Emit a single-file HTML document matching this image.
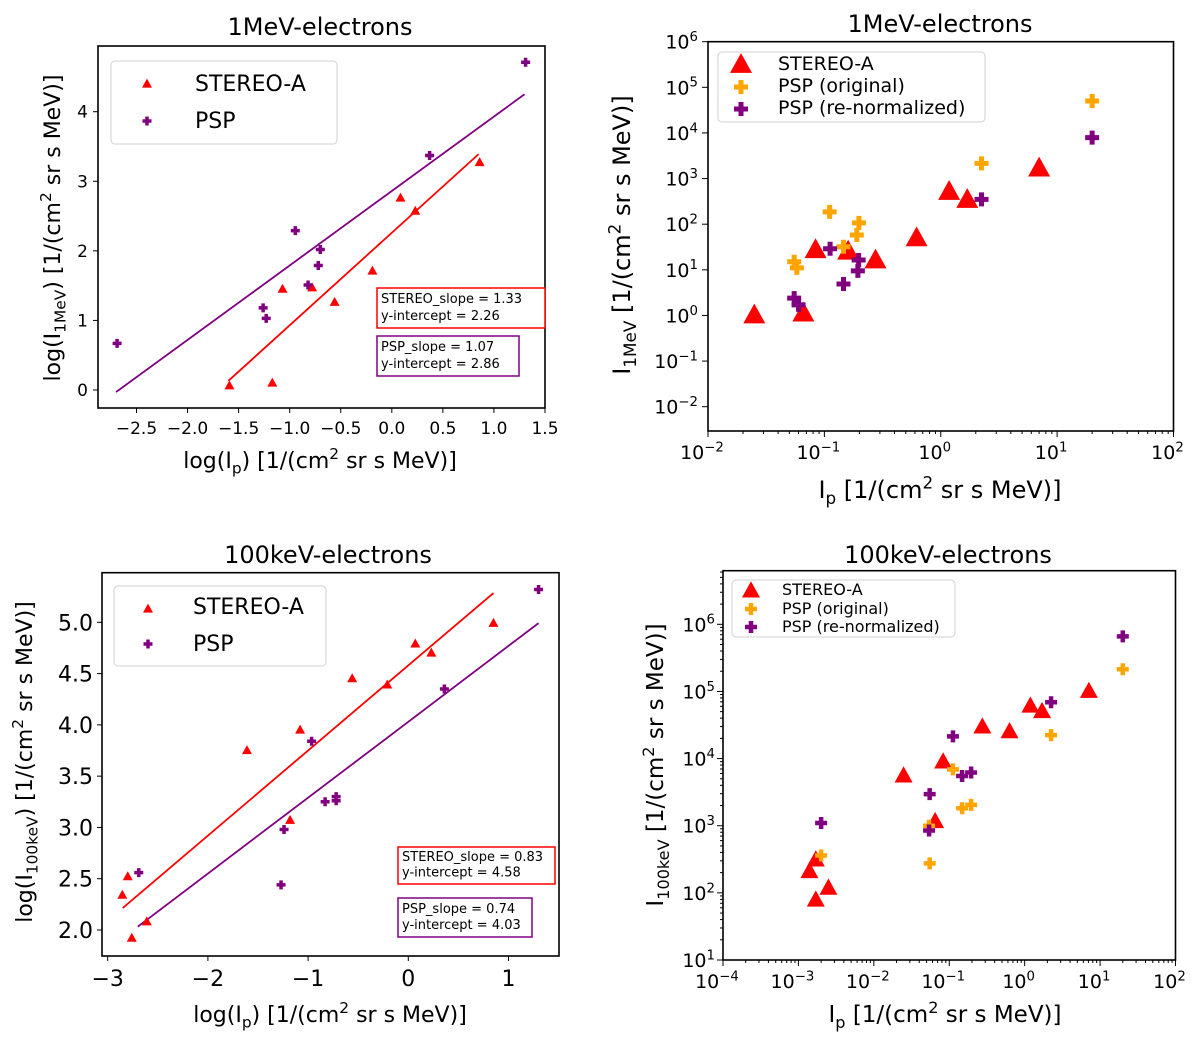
<!DOCTYPE html>
<html><head><meta charset="utf-8"><style>
html,body{margin:0;padding:0;background:#fff;}
svg{display:block;font-family:"DejaVu Sans","Liberation Sans",sans-serif;}
</style></head><body>
<svg id="fig" width="1200" height="1043" viewBox="0 0 1200 1043" xmlns="http://www.w3.org/2000/svg"></svg>
<script>
// ---- Panel 1 data (log values) ----
const p1StereoX = [-1.59,-1.17,-1.07,-0.78,-0.56,-0.19,0.085,0.23,0.86];
const p1StereoY = [0.06,0.10,1.45,1.47,1.26,1.71,2.76,2.57,3.27];
const p1PspX = [-2.69,-0.945,-0.70,-0.72,-0.82,-1.26,-1.23,0.37,1.31];
const p1PspY = [0.67,2.29,2.02,1.79,1.51,1.18,1.03,3.37,4.71];
const p1Fits = [[1.33,2.26,-1.6,0.85],[1.07,2.86,-2.7,1.3]];
const p1XTicks = [-2.5,-2.0,-1.5,-1.0,-0.5,0.0,0.5,1.0,1.5];
const p1YTicks = [0,1,2,3,4];
// ---- Panel 2 data ----
const p2StereoIp = [0.025,0.066,0.084,0.16,0.275,0.62,1.18,1.69,7.0];
const p2StereoIe = [1.0,1.1,27,25,16,49,510,340,1660];
const p2OrigIp = [0.055,0.058,0.111,0.146,0.198,0.19,2.24,20];
const p2OrigIe = [15,11,186,32,107,58,2150,50000];
const p2RenIp = [0.055,0.06,0.112,0.146,0.197,0.194,2.24,20];
const p2RenIe = [2.4,1.7,29,4.9,16.4,9.5,350,7900];
const p2XTicks = [-2,-1,0,1,2];
const p2YTicks = [-2,-1,0,1,2,3,4,5,6];
// ---- Panel 3 data (log values) ----
const p3StereoX = [-2.854,-2.80,-2.76,-2.61,-1.61,-1.08,-1.18,-0.56,-0.21,0.07,0.23,0.85];
const p3StereoY = [2.34,2.52,1.92,2.08,3.75,3.95,3.07,4.45,4.39,4.79,4.70,4.99];
const p3PspX = [-2.69,-0.965,-1.24,-1.27,-0.83,-0.72,-0.72,0.36,1.30];
const p3PspY = [2.56,3.84,2.98,2.44,3.25,3.30,3.26,4.35,5.32];
const p3Fits = [[0.83,4.58,-2.85,0.85],[0.74,4.03,-2.7,1.3]];
const p3XTicks = [-3,-2,-1,0,1];
const p3YTicks = [2.0,2.5,3.0,3.5,4.0,4.5,5.0];
// ---- Panel 4 data ----
const p4StereoIp = [0.0014,0.0017,0.0017,0.0025,0.0248,0.083,0.065,0.275,0.63,1.19,1.70,7.1];
const p4StereoIe = [207,309,78,117,5500,8900,1150,29500,25100,60300,50100,100000];
const p4OrigIp = [0.002,0.055,0.054,0.112,0.148,0.195,2.24,20];
const p4OrigIe = [360,275,1000,6900,1820,2040,22400,214000];
const p4RenIp = [0.002,0.055,0.054,0.112,0.148,0.195,2.24,20];
const p4RenIe = [1100,2950,850,21400,5500,6200,69000,660000];
const p4XTicks = [-4,-3,-2,-1,0,1,2];
const p4YTicks = [1,2,3,4,5,6];

const NS='http://www.w3.org/2000/svg';
const svg=document.getElementById('fig');
function mk(tag,at,parent){const e=document.createElementNS(NS,tag);for(const k in at)e.setAttribute(k,at[k]);(parent||svg).appendChild(e);return e;}
function lin(d0,d1,p0,p1){return v=>p0+(v-d0)*(p1-p0)/(d1-d0);}
function logs(d0,d1,p0,p1){const f=lin(Math.log10(d0),Math.log10(d1),p0,p1);return v=>f(Math.log10(v));}
const RED='#ff0000',PUR='#800080',ORA='#ffa500';
function tri(g,cx,cy,s,name){const h=s*0.9;const p=mk('polygon',{points:`${cx},${cy-h*0.6} ${cx-s/2},${cy+h*0.4} ${cx+s/2},${cy+h*0.4}`,fill:RED},g);

return p;}
function plus(g,cx,cy,s,t,col,name){const p=mk('path',{d:`M${cx-s/2},${cy-t/2}h${s}v${t}h${-s}z M${cx-t/2},${cy-s/2}h${t}v${s}h${-t}z`,fill:col},g);

return p;}
function richText(g,x,y,parts,fs,attrs){const t=mk('text',Object.assign({x:x,y:y,'font-size':fs,fill:'#000'},attrs||{}),g);
parts.forEach(p=>{const s=mk('tspan',{},t);s.textContent=p[0];if(p[1]==='sub'){s.setAttribute('font-size',fs*0.7);s.setAttribute('dy',fs*0.25);}
else if(p[1]==='sup'){s.setAttribute('font-size',fs*0.7);s.setAttribute('dy',-fs*0.4);}
else if(p[1]==='subend'){s.setAttribute('dy',-fs*0.25);}else if(p[1]==='supend'){s.setAttribute('dy',fs*0.4);}});return t;}
function frame(g,b){const r=mk('rect',{x:b.l,y:b.t,width:b.r-b.l,height:b.b-b.t,fill:'none',stroke:'#000','stroke-width':1.6},g);

}
function title(g,x,y,txt){const t=mk('text',{x:x,y:y,'font-size':24,'text-anchor':'middle'},g);t.textContent=txt;

}
function legendBox(g,x,y,w,h){const r=mk('rect',{x:x,y:y,width:w,height:h,rx:4,fill:'#fff',stroke:'#d0d0d0','stroke-width':1},g);

}
function statBox(g,x,y,w,h,col,l1,l2,fs){const r=mk('rect',{x:x,y:y,width:w,height:h,fill:'#fff',stroke:col,'stroke-width':1.5},g);


const a=mk('text',{x:x+4,y:y+h*0.38,'font-size':fs},g);a.textContent=l1;const b=mk('text',{x:x+4,y:y+h*0.8,'font-size':fs},g);b.textContent=l2;}
function fmt(v){return (v<0?'\u2212':'')+Math.abs(v).toFixed(1);}

// ===== Panel 1 =====
(function(){
const g=mk('g',{});
const b={l:98,r:545,t:46,b:408};
const X=lin(-2.5,1.5,136.5,545),Y=lin(0,4,390,111.7);
title(g,320,35,'1MeV-electrons');
p1XTicks.forEach(v=>{const x=X(v);mk('line',{x1:x,x2:x,y1:b.b,y2:b.b+5,stroke:'#000'},g);const t=mk('text',{x:x,y:b.b+26,'font-size':17,'text-anchor':'middle'},g);t.textContent=fmt(v);});
p1YTicks.forEach(v=>{const y=Y(v);mk('line',{x1:b.l,x2:b.l-5,y1:y,y2:y,stroke:'#000'},g);const t=mk('text',{x:b.l-10,y:y+6,'font-size':17,'text-anchor':'end'},g);t.textContent=v;});
const cols=[RED,PUR];
p1Fits.forEach((f,i)=>{const l=mk('line',{x1:X(f[2]),y1:Y(f[0]*f[2]+f[1]),x2:X(f[3]),y2:Y(f[0]*f[3]+f[1]),stroke:cols[i],'stroke-width':1.8},g);
});
p1StereoX.forEach((v,i)=>tri(g,X(v),Y(p1StereoY[i]),10,'stereo-point'));
p1PspX.forEach((v,i)=>plus(g,X(v),Y(p1PspY[i]),9,3.5,PUR,'psp-point'));
frame(g,b);
legendBox(g,111,61,226,83);
tri(g,147,84,10,'legend-stereo-marker');plus(g,147,121,9,3.5,PUR,'legend-psp-marker');
let t=mk('text',{x:195,y:91,'font-size':22},g);t.textContent='STEREO-A';
t=mk('text',{x:195,y:128,'font-size':22},g);t.textContent='PSP';
statBox(g,377,288,168,40,RED,'STEREO_slope = 1.33','y-intercept = 2.26',13);
statBox(g,377,336,142,40,PUR,'PSP_slope = 1.07','y-intercept = 2.86',13);
richText(g,320,468,[['log(I'],['p','sub'],[')','subend'],[' [1/(cm'],['2','sup'],[' sr s MeV)]','supend']],22,{'text-anchor':'middle'});
richText(g,0,0,[['log(I'],['1MeV','sub'],[')','subend'],[' [1/(cm'],['2','sup'],[' sr s MeV)]','supend']],22,{'text-anchor':'middle',transform:'translate(60,228) rotate(-90)'});
})();

// ===== Panel 2 =====
(function(){
const g=mk('g',{});
const b={l:708,r:1173.5,t:41.7,b:431};
const X=logs(1e-2,1e2,708,1173.5),Y=logs(1e-2,1e6,406.7,41.7);
title(g,940,32,'1MeV-electrons');
p2XTicks.forEach(v=>{const x=X(Math.pow(10,v));mk('line',{x1:x,x2:x,y1:b.b,y2:b.b+6,stroke:'#000'},g);
richText(g,x-6,b.b+28,[['10'],[String(v).replace('-','\u2212'),'sup']],19,{'text-anchor':'middle'});
if(v<2)for(let k=2;k<10;k++){const xm=X(k*Math.pow(10,v));mk('line',{x1:xm,x2:xm,y1:b.b,y2:b.b+3,stroke:'#000'},g);}});
p2YTicks.forEach(v=>{const y=Y(Math.pow(10,v));mk('line',{x1:b.l,x2:b.l-6,y1:y,y2:y,stroke:'#000'},g);
richText(g,b.l-10,y+7,[['10'],[String(v).replace('-','\u2212'),'sup']],19,{'text-anchor':'end'});});
p2StereoIp.forEach((v,i)=>tri(g,X(v),Y(p2StereoIe[i]),22,'stereo-point'));
p2OrigIp.forEach((v,i)=>plus(g,X(v),Y(p2OrigIe[i]),14,5,ORA,'psp-original-point'));
p2RenIp.forEach((v,i)=>plus(g,X(v),Y(p2RenIe[i]),14,5,PUR,'psp-renormalized-point'));
frame(g,b);
legendBox(g,718,52,267,70);
tri(g,741,65,22,'legend-stereo-marker');plus(g,741,87,14,5,ORA,'legend-psp-original-marker');plus(g,741,109,14,5,PUR,'legend-psp-renormalized-marker');
[['STEREO-A',70],['PSP (original)',92],['PSP (re-normalized)',114]].forEach(a=>{const t=mk('text',{x:778,y:a[1],'font-size':19},g);t.textContent=a[0];});
richText(g,940,498,[['I'],['p','sub'],[' [1/(cm','subend'],['2','sup'],[' sr s MeV)]','supend']],24,{'text-anchor':'middle'});
richText(g,0,0,[['I'],['1MeV','sub'],[' [1/(cm','subend'],['2','sup'],[' sr s MeV)]','supend']],24,{'text-anchor':'middle',transform:'translate(630,235) rotate(-90)'});
})();

// ===== Panel 3 =====
(function(){
const g=mk('g',{});
const b={l:102,r:559,t:572.7,b:956};
const X=lin(-3,1,107.7,508.5),Y=lin(2,5,930,622.3);
title(g,328,563,'100keV-electrons');
p3XTicks.forEach(v=>{const x=X(v);mk('line',{x1:x,x2:x,y1:b.b,y2:b.b+5,stroke:'#000'},g);const t=mk('text',{x:x,y:b.b+30,'font-size':22,'text-anchor':'middle'},g);t.textContent=(v<0?'\u2212':'')+Math.abs(v);});
p3YTicks.forEach(v=>{const y=Y(v);mk('line',{x1:b.l,x2:b.l-5,y1:y,y2:y,stroke:'#000'},g);const t=mk('text',{x:b.l-9,y:y+8,'font-size':22,'text-anchor':'end'},g);t.textContent=v.toFixed(1);});
const cols=[RED,PUR];
p3Fits.forEach((f,i)=>{const l=mk('line',{x1:X(f[2]),y1:Y(f[0]*f[2]+f[1]),x2:X(f[3]),y2:Y(f[0]*f[3]+f[1]),stroke:cols[i],'stroke-width':1.8},g);
});
p3StereoX.forEach((v,i)=>tri(g,X(v),Y(p3StereoY[i]),10,'stereo-point'));
p3PspX.forEach((v,i)=>plus(g,X(v),Y(p3PspY[i]),9,3.5,PUR,'psp-point'));
frame(g,b);
legendBox(g,114,586,212,80);
tri(g,148,609,10,'legend-stereo-marker');plus(g,148,644,9,3.5,PUR,'legend-psp-marker');
let t=mk('text',{x:193,y:614,'font-size':22},g);t.textContent='STEREO-A';
t=mk('text',{x:193,y:651,'font-size':22},g);t.textContent='PSP';
statBox(g,398,847,157,37,RED,'STEREO_slope = 0.83','y-intercept = 4.58',13);
statBox(g,398,898,134,39,PUR,'PSP_slope = 0.74','y-intercept = 4.03',13);
richText(g,330,1022,[['log(I'],['p','sub'],[')','subend'],[' [1/(cm'],['2','sup'],[' sr s MeV)]','supend']],22,{'text-anchor':'middle'});
richText(g,0,0,[['log(I'],['100keV','sub'],[')','subend'],[' [1/(cm'],['2','sup'],[' sr s MeV)]','supend']],22,{'text-anchor':'middle',transform:'translate(32,762) rotate(-90)'});
})();

// ===== Panel 4 =====
(function(){
const g=mk('g',{});
const b={l:723,r:1175.5,t:570.7,b:960};
const X=logs(1e-4,1e2,723,1175.5),Y=logs(1e1,1e6,960,624.3);
title(g,948,563,'100keV-electrons');
p4XTicks.forEach(v=>{const x=X(Math.pow(10,v));mk('line',{x1:x,x2:x,y1:b.b,y2:b.b+6,stroke:'#000'},g);
richText(g,x-6,b.b+28,[['10'],[String(v).replace('-','\u2212'),'sup']],19,{'text-anchor':'middle'});
if(v<2)for(let k=2;k<10;k++){const xm=X(k*Math.pow(10,v));mk('line',{x1:xm,x2:xm,y1:b.b,y2:b.b+3,stroke:'#000'},g);}});
p4YTicks.forEach(v=>{const y=Y(Math.pow(10,v));mk('line',{x1:b.l,x2:b.l-6,y1:y,y2:y,stroke:'#000'},g);
richText(g,b.l-8,y+7,[['10'],[String(v),'sup']],19,{'text-anchor':'end'});
for(let k=2;k<10;k++){const ym=Y(k*Math.pow(10,v));if(ym>b.t)mk('line',{x1:b.l,x2:b.l-3,y1:ym,y2:ym,stroke:'#000'},g);}});
p4StereoIp.forEach((v,i)=>tri(g,X(v),Y(p4StereoIe[i]),18,'stereo-point'));
p4OrigIp.forEach((v,i)=>plus(g,X(v),Y(p4OrigIe[i]),12,4.5,ORA,'psp-original-point'));
p4RenIp.forEach((v,i)=>plus(g,X(v),Y(p4RenIe[i]),12,4.5,PUR,'psp-renormalized-point'));
frame(g,b);
legendBox(g,732,580,223,57);
tri(g,751,591,18,'legend-stereo-marker');plus(g,751,609,12,4.5,ORA,'legend-psp-original-marker');plus(g,751,627,12,4.5,PUR,'legend-psp-renormalized-marker');
[['STEREO-A',595],['PSP (original)',614],['PSP (re-normalized)',632]].forEach(a=>{const t=mk('text',{x:782,y:a[1],'font-size':16},g);t.textContent=a[0];});
richText(g,945,1022,[['I'],['p','sub'],[' [1/(cm','subend'],['2','sup'],[' sr s MeV)]','supend']],23,{'text-anchor':'middle'});
richText(g,0,0,[['I'],['100keV','sub'],[' [1/(cm','subend'],['2','sup'],[' sr s MeV)]','supend']],23,{'text-anchor':'middle',transform:'translate(663,765) rotate(-90)'});
})();
</script>
</body></html>
